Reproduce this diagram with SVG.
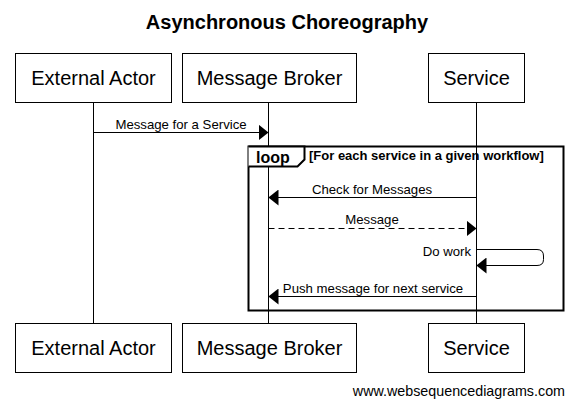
<svg xmlns="http://www.w3.org/2000/svg" width="573" height="406" viewBox="0 0 573 406">
<style>
text{font-family:"Liberation Sans",Arial,sans-serif;fill:#000}
.box{fill:#fff;stroke:#000;stroke-width:1}
.actor{font-size:20px;text-anchor:middle}
.msg{font-size:13.2px;text-anchor:middle}
.end{text-anchor:end}
.life{stroke:#000;stroke-width:1}
.line{stroke:#000;stroke-width:1;fill:none}
</style>
<defs>
<marker id="ah" viewBox="0 0 10 16" refX="10" refY="8" markerWidth="10" markerHeight="16" markerUnits="userSpaceOnUse" orient="auto">
<path d="M0,0 L10,8 L0,16 Z" fill="#000"/>
</marker>
</defs>
<rect width="573" height="406" fill="#fff"/>
<text x="287" y="29" font-size="20" font-weight="bold" text-anchor="middle">Asynchronous Choreography</text>
<g id="lifelines">
<line class="life" x1="93.5" y1="102" x2="93.5" y2="323"/>
<line class="life" x1="268.5" y1="102" x2="268.5" y2="323"/>
<line class="life" x1="476.5" y1="102" x2="476.5" y2="323"/>
</g>
<g id="loop">
<rect x="248.5" y="146.5" width="315" height="164" fill="none" stroke="#000" stroke-width="2"/>
<path d="M248.5,146.5 H304.5 V159.5 L297.5,166.5 H248.5" fill="#fff" stroke="#000" stroke-width="2"/>
<text x="256" y="163" font-size="16" font-weight="bold">loop</text>
<text x="309" y="160" font-size="13" font-weight="bold">[For each service in a given workflow]</text>
</g>
<g id="connectors">
<line class="line" x1="93.5" y1="132.5" x2="268.5" y2="132.5" marker-end="url(#ah)"/>
<text class="msg" x="181" y="129">Message for a Service</text>
<line class="line" x1="476.5" y1="197.5" x2="268.5" y2="197.5" marker-end="url(#ah)"/>
<text class="msg" x="372" y="194">Check for Messages</text>
<line class="line" x1="268.5" y1="228.5" x2="476.5" y2="228.5" stroke-dasharray="6,4" marker-end="url(#ah)"/>
<text class="msg" x="372" y="224">Message</text>
<path class="line" d="M476.5,249.5 H537 Q543.5,249.5 543.5,256 V259.5 Q543.5,265.5 537,265.5 H476.5" marker-end="url(#ah)"/>
<text class="msg end" x="471" y="256">Do work</text>
<line class="line" x1="476.5" y1="296.5" x2="268.5" y2="296.5" marker-end="url(#ah)"/>
<text class="msg" x="373" y="293">Push message for next service</text>
</g>
<g id="actor-external-top"><rect class="box" x="15.5" y="53.5" width="156" height="49"/><text class="actor" x="93.5" y="85">External Actor</text></g>
<g id="actor-broker-top"><rect class="box" x="182.5" y="53.5" width="174" height="49"/><text class="actor" x="269.5" y="85">Message Broker</text></g>
<g id="actor-service-top"><rect class="box" x="428.5" y="53.5" width="96" height="49"/><text class="actor" x="476.5" y="85">Service</text></g>
<g id="actor-external-bottom"><rect class="box" x="15.5" y="323.5" width="156" height="49"/><text class="actor" x="93.5" y="355">External Actor</text></g>
<g id="actor-broker-bottom"><rect class="box" x="182.5" y="323.5" width="174" height="49"/><text class="actor" x="269.5" y="355">Message Broker</text></g>
<g id="actor-service-bottom"><rect class="box" x="428.5" y="323.5" width="96" height="49"/><text class="actor" x="476.5" y="355">Service</text></g>
<text x="565" y="396" font-size="14.3" text-anchor="end">www.websequencediagrams.com</text>
</svg>
